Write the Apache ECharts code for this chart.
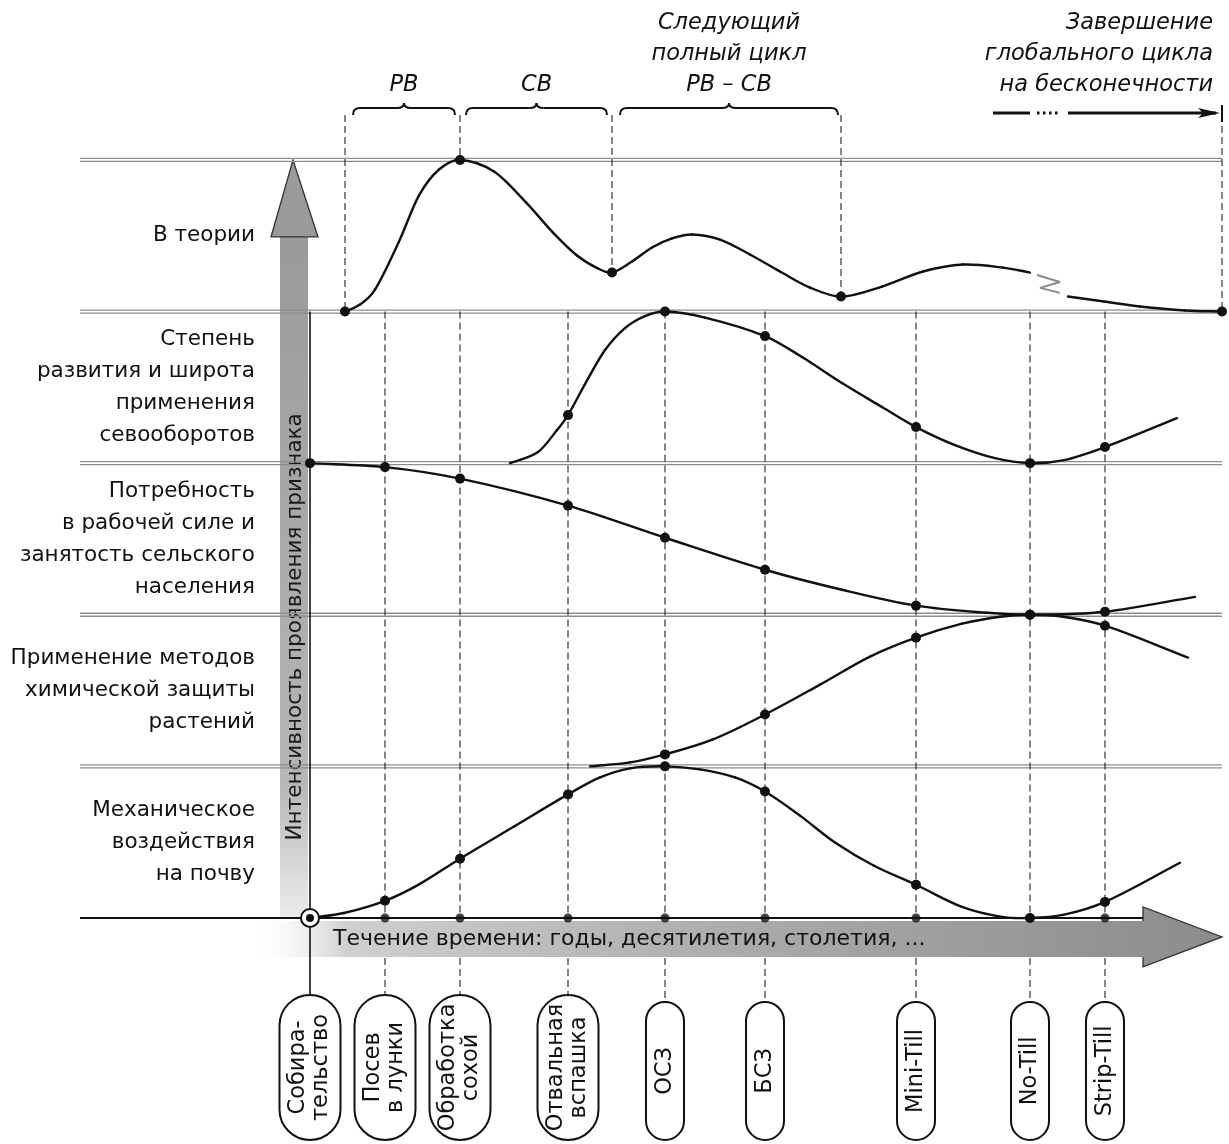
<!DOCTYPE html>
<html><head><meta charset="utf-8">
<script src="https://cdn.jsdelivr.net/npm/echarts@6/dist/echarts.min.js"></script>
<style>html,body{margin:0;padding:0;background:#fff}#c{width:1229px;height:1144px}</style>
</head><body><div id="c"></div><script>
// ================= DATA =================
// stages on the time axis (time units), labels of the stadium boxes
const stageLabels = ['Собира-\nтельство','Посев\nв лунки','Обработка\nсохой','Отвальная\nвспашка','ОСЗ','БСЗ','Mini-Till','No-Till','Strip-Till'];
const stageTimes  = [0, 7.5, 15, 25.8, 35.5, 45.5, 60.6, 72, 79.5];

// band titles (bottom band first) and band boundaries
const bandLabels = ['Механическое\nвоздействия\nна почву','Применение методов\nхимической защиты\nрастений','Потребность\nв рабочей силе и\nзанятость сельского\nнаселения','Степень\nразвития и широта\nприменения\nсевооборотов','В теории'];
const bandLevels = [0, 1, 2, 3, 4, 5];

// curves: [time, intensity 0..1 inside its band, 1 = marked point]
const theoryMain = [[3.5,0,1],[5,.046],[6.5,.145],[8.9,.462],[10.9,.766],[12.9,.937],[15,1,1],[18.4,.924],[21.6,.72],[24.3,.521],[26.7,.37],[28.8,.284],[30.2,.257,1],[32.2,.33],[34.2,.422],[36.2,.482],[38.2,.508],[41,.475],[44,.376],[47,.264],[50,.158],[53.1,.099,1],[57.2,.165],[61.3,.264],[65.3,.31],[69.3,.29],[72,.257]];
const theoryTail = [[75.8,.099],[79.4,.066],[83,.033],[87.5,.007],[91.2,0,1]];
const cropRotation = [[20,0],[22.8,.073],[24.7,.218],[25.8,.317,1],[27.5,.521],[29.5,.746],[31.5,.891],[33.5,.97],[35.5,1,1],[39.5,.96],[45.5,.838,1],[49.2,.70],[53.2,.528],[57.2,.37],[60.6,.238,1],[64.5,.119],[68.5,.033],[72,0,1],[75.4,.02],[79.5,.106,1],[86.7,.297]];
const labour = [[0,1,1],[7.5,.974,1],[15,.898,1],[25.8,.72,1],[35.5,.508,1],[45.5,.297,1],[53.2,.165],[60.6,.06,1],[67.7,.013],[72,0,1],[79.5,.02,1],[88.5,.118]];
const chemical = [[28,0],[32,.026],[35.5,.079,1],[40.3,.178],[45.5,.342,1],[51,.539],[56,.724],[60.6,.849,1],[65.2,.941],[69,.987],[72,1,1],[75.3,.987],[79.5,.928,1],[87.8,.717]];
const mechanical = [[0,0],[3.4,.033],[7.5,.113,1],[11,.225],[15,.391,1],[20.4,.603],[25.8,.815,1],[29,.927],[32,.987],[35.5,1,1],[39,.98],[42.5,.927],[45.5,.834,1],[49,.675],[52.5,.497],[56.4,.344],[60.6,.219,1],[65.2,.073],[69.2,.007],[72,0,1],[75.3,.02],[79.5,.106,1],[87,.364]];
const breakMark = [[72.7,4.241],[75,4.195],[73,4.156],[75,4.123]];

// cycle boundaries of the theory curve
const cycleTimes  = [3.5, 15, 30.2, 53.1, 91.2];
const cycleValues = [0, 1, 0.257, 0.099, 0];
const braceStarts = [4.3, 15.6, 31];
const braceEnds   = [14.5, 29.7, 52.8];
const braceLabels = ['РВ', 'СВ', 'Следующий\nполный цикл\nРВ – СВ'];
const endLabel = 'Завершение\nглобального цикла\nна бесконечности';
const endArrowSolid = [[68.3, 72], [75.8, 90.6]];
const endArrowDots = [72.7, 75.1];
const yAxisTitle = 'Интенсивность проявления признака';
const xAxisTitle = 'Течение времени: годы, десятилетия, столетия, ...';

// ================= LAYOUT / STYLE =================
const X_MIN = -31, X_MAX = 91.9, Y_MIN = -1.491, Y_MAX = 6.055;
const INK = '#111';
const FONT = '"DejaVu Sans", Verdana, sans-serif';
const F_LABEL = '21.5px ' + FONT;
const F_PILL = '22.5px ' + FONT;
const F_ITAL = 'italic 22.5px ' + FONT;
const LINE_START = -23, LINE_END = 91.2, ARROW_BASE = 83.3;
const BRACE_END_V = 5.297, BRACE_V = 5.343, BRACE_CUSP_V = 5.376;
const PILL_TOP2 = -0.508, PILL_TOP1 = -0.554, PILL_BOTTOM = -1.464, BELOW_ARROW = -0.264;

const chart = echarts.init(document.getElementById('c'));

function custom(name, data, renderItem, z) {
  return { type: 'custom', name, data, renderItem, z: z || 5, silent: true, clip: false };
}
function ln(a, b, style) { return { type: 'line', shape: { x1: a[0], y1: a[1], x2: b[0], y2: b[1] }, style }; }

// smooth curve through the read points (cubic Hermite in pixel space, drawn segment by segment)
function curve(name, pts, offset) {
  return custom(name, pts.map(p => [p[0], offset + p[1], p[2] ? 1 : 0]), (params, api) => {
    const n = pts.length, i = params.dataIndex;
    const P = k => api.coord([pts[k][0], offset + pts[k][1]]);
    const slope = k => {
      const a = P(Math.max(0, k - 1)), b = P(Math.min(n - 1, k + 1));
      return (b[1] - a[1]) / (b[0] - a[0]);
    };
    const kids = [];
    const p1 = P(i);
    if (i < n - 1) {
      const p2 = P(i + 1), dx = (p2[0] - p1[0]) / 3, m1 = slope(i), m2 = slope(i + 1);
      kids.push({ type: 'bezierCurve', shape: { x1: p1[0], y1: p1[1], cpx1: p1[0] + dx, cpy1: p1[1] + m1 * dx, cpx2: p2[0] - dx, cpy2: p2[1] - m2 * dx, x2: p2[0], y2: p2[1] },
        style: { stroke: INK, lineWidth: 2.4, fill: null, lineCap: 'round' } });
    }
    if (api.value(2)) kids.push({ type: 'circle', z2: 5, shape: { cx: p1[0], cy: p1[1], r: 5 }, style: { fill: INK } });
    return { type: 'group', children: kids };
  }, 10);
}

const dash = { stroke: '#222', lineWidth: 1.1, lineDash: [7, 4] };

const series = [
  // horizontal time arrow
  custom('timeArrow', [[0, 0]], (p, api) => {
    const c = (t, v) => api.coord([t, v]);
    const a = c(-6, -0.02), b = c(ARROW_BASE, -0.257), ht = c(ARROW_BASE, 0.073), hb = c(ARROW_BASE, -0.323), tip = c(91.2, -0.125);
    return { type: 'group', children: [
      { type: 'polygon', shape: { points: [a, [b[0], a[1]], ht, tip, hb, [b[0], b[1]], [a[0], b[1]]] },
        style: { fill: new echarts.graphic.LinearGradient(0, 0, 1, 0, [
          { offset: 0, color: 'rgba(255,255,255,0)' }, { offset: 0.1, color: '#cfcfcf' },
          { offset: 0.5, color: '#ababab' }, { offset: 1, color: '#8c8c8c' }]) } },
      { type: 'polyline', shape: { points: [[b[0], a[1]], ht, tip, hb, [b[0], b[1]]] }, style: { stroke: '#333', lineWidth: 1.3, fill: null } },
      { type: 'text', x: c(2.3, 0)[0], y: c(0, -0.14)[1], style: { text: xAxisTitle, font: '22px ' + FONT, fill: '#111', align: 'left', verticalAlign: 'middle' } }
    ] };
  }, 1),
  // vertical intensity arrow
  custom('yArrow', [[0, 0]], (p, api) => {
    const c = (t, v) => api.coord([t, v]);
    const s0 = c(-3.0, 0), s1 = c(-0.2, 4.492), hb1 = c(-3.9, 4.492), hb2 = c(0.8, 4.492), tip = c(-1.7, 5.0);
    const mid = c(-1.5, 1.92);
    return { type: 'group', children: [
      { type: 'rect', shape: { x: s0[0], y: s1[1], width: s1[0] - s0[0], height: s0[1] - s1[1] },
        style: { fill: new echarts.graphic.LinearGradient(0, 0, 0, 1, [
          { offset: 0, color: '#9a9a9a' }, { offset: 0.8, color: '#b6b6b6' }, { offset: 1, color: '#ececec' }]) } },
      { type: 'polygon', shape: { points: [[s0[0], hb1[1]], hb1, tip, hb2, [s1[0], hb2[1]]] }, style: { fill: '#9a9a9a', stroke: '#333', lineWidth: 1.3 } },
      { type: 'text', x: mid[0], y: mid[1], rotation: Math.PI / 2, style: { text: yAxisTitle, font: '21.5px ' + FONT, fill: '#1a1a1a', align: 'center', verticalAlign: 'middle' } }
    ] };
  }, 2),
  // band boundary lines
  custom('bands', bandLevels.map(l => [0, l]), (p, api) => {
    const lv = api.value(1);
    const a = api.coord([LINE_START, lv]);
    if (lv === 0) { const b = api.coord([ARROW_BASE, 0]); return ln(a, b, { stroke: INK, lineWidth: 2 }); }
    const b = api.coord([LINE_END, lv]);
    return { type: 'group', children: [
      ln([a[0], a[1] - 1.5], [b[0], b[1] - 1.5], { stroke: '#8d8d8d', lineWidth: 1.3 }),
      ln([a[0], a[1] + 1.5], [b[0], b[1] + 1.5], { stroke: '#8d8d8d', lineWidth: 1.3 })
    ] };
  }, 3),
  // stage guide lines
  custom('stageLines', stageTimes.map((t, i) => [t, i]), (p, api) => {
    const t = api.value(0), i = p.dataIndex;
    const top = stageLabels[i].indexOf('\n') >= 0 ? PILL_TOP2 : PILL_TOP1;
    if (i === 0) return ln(api.coord([0, 4]), api.coord([0, top]), { stroke: INK, lineWidth: 1.6 });
    return { type: 'group', children: [
      ln(api.coord([t, 4]), api.coord([t, 0]), dash),
      ln(api.coord([t, BELOW_ARROW]), api.coord([t, top]), dash)
    ] };
  }, 4),
  // cycle guide lines in the theory band
  custom('cycleLines', cycleTimes.map((t, i) => [t, 4 + cycleValues[i]]), (p, api) => {
    const t = api.value(0), v = api.value(1);
    return ln(api.coord([t, BRACE_END_V]), api.coord([t, v]), dash);
  }, 4),
  // braces and their captions
  custom('braces', braceStarts.map((t, i) => [t, braceEnds[i]]), (p, api) => {
    const a = api.coord([api.value(0), BRACE_V]), b = api.coord([api.value(1), BRACE_V]);
    const yE = api.coord([0, BRACE_END_V])[1], yL = a[1], yC = api.coord([0, BRACE_CUSP_V])[1];
    const xm = (a[0] + b[0]) / 2, r = 7, st = { stroke: INK, lineWidth: 2, fill: null };
    const txt = api.coord([0, 5.39])[1];
    return { type: 'group', children: [
      { type: 'bezierCurve', shape: { x1: a[0], y1: yE, cpx1: a[0], cpy1: yL, x2: a[0] + r, y2: yL }, style: st },
      ln([a[0] + r, yL], [xm - r, yL], st),
      { type: 'bezierCurve', shape: { x1: xm - r, y1: yL, cpx1: xm, cpy1: yL, x2: xm, y2: yC }, style: st },
      { type: 'bezierCurve', shape: { x1: xm, y1: yC, cpx1: xm, cpy1: yL, x2: xm + r, y2: yL }, style: st },
      ln([xm + r, yL], [b[0] - r, yL], st),
      { type: 'bezierCurve', shape: { x1: b[0] - r, y1: yL, cpx1: b[0], cpy1: yL, x2: b[0], y2: yE }, style: st },
      { type: 'text', x: xm, y: txt, style: { text: braceLabels[p.dataIndex], font: F_ITAL, fill: INK, align: 'center', verticalAlign: 'bottom', lineHeight: 31 } }
    ] };
  }, 5),
  // end of global cycle arrow + caption
  custom('endArrow', [[0, 0]], (p, api) => {
    const y = api.coord([0, 5.31])[1];
    const kids = endArrowSolid.map(s => ln([api.coord([s[0], 0])[0], y], [api.coord([s[1], 0])[0], y], { stroke: INK, lineWidth: 3 }));
    const d0 = api.coord([endArrowDots[0], 0])[0], d1 = api.coord([endArrowDots[1], 0])[0];
    kids.push(ln([d0, y], [d1, y], { stroke: INK, lineWidth: 3, lineDash: [2.5, 3.5] }));
    const tip = api.coord([91.0, 0])[0];
    kids.push({ type: 'polygon', shape: { points: [[tip - 22, y - 5], [tip, y], [tip - 22, y + 5], [tip - 17, y]] }, style: { fill: INK } });
    const tx = api.coord([91.2, 0])[0];
    kids.push(ln([tx, api.coord([0, 5.363])[1]], [tx, api.coord([0, 5.251])[1]], { stroke: INK, lineWidth: 2 }));
    kids.push({ type: 'text', x: api.coord([90.3, 0])[0], y: api.coord([0, 5.39])[1], style: { text: endLabel, font: F_ITAL, fill: INK, align: 'right', verticalAlign: 'bottom', lineHeight: 31 } });
    return { type: 'group', children: kids };
  }, 5),
  // band titles
  custom('bandTitles', bandLabels.map((s, i) => [-5.5, i + 0.5]), (p, api) => {
    const c = api.coord([api.value(0), api.value(1)]);
    return { type: 'text', x: c[0], y: c[1], style: { text: bandLabels[p.dataIndex], font: F_LABEL, fill: '#111', align: 'right', verticalAlign: 'middle', lineHeight: 32 } };
  }, 5),
  // stage boxes
  custom('stageBoxes', stageTimes.map((t, i) => [t, i]), (p, api) => {
    const s = stageLabels[p.dataIndex], two = s.indexOf('\n') >= 0;
    const cx = api.coord([api.value(0), 0])[0];
    const top = api.coord([0, two ? PILL_TOP2 : PILL_TOP1])[1], bot = api.coord([0, PILL_BOTTOM])[1];
    const w = two ? 61 : 38;
    return { type: 'group', children: [
      { type: 'rect', shape: { x: cx - w / 2, y: top, width: w, height: bot - top, r: w / 2 }, style: { fill: '#fff', stroke: INK, lineWidth: 2 } },
      { type: 'text', x: cx, y: (top + bot) / 2, rotation: Math.PI / 2, style: { text: s, font: F_PILL, fill: '#111', align: 'center', verticalAlign: 'middle', lineHeight: 23 } }
    ] };
  }, 6),
  curve('theory', theoryMain, 4),
  curve('theoryTail', theoryTail, 4),
  curve('crop', cropRotation, 3),
  curve('labour', labour, 2),
  curve('chemical', chemical, 1),
  curve('mechanical', mechanical, 0),
  { type: 'line', name: 'break', data: breakMark, clip: false, silent: true, symbol: 'none', z: 9, lineStyle: { color: '#8a8a8a', width: 2 } },
  { type: 'scatter', name: 'stageDots', data: stageTimes.slice(1).map(t => [t, 0]), symbolSize: 9, itemStyle: { color: INK }, z: 11, silent: true, clip: false },
  custom('origin', [[stageTimes[0], 0]], (p, api) => {
    const c = api.coord([api.value(0), api.value(1)]);
    return { type: 'group', children: [
      { type: 'circle', shape: { cx: c[0], cy: c[1], r: 9 }, style: { fill: '#fff', stroke: INK, lineWidth: 2 } },
      { type: 'circle', shape: { cx: c[0], cy: c[1], r: 4 }, style: { fill: INK } }
    ] };
  }, 12)
];

chart.setOption({
  animation: false,
  backgroundColor: '#fff',
  grid: { left: 0, right: 0, top: 0, bottom: 0 },
  xAxis: { type: 'value', min: X_MIN, max: X_MAX, show: false },
  yAxis: { type: 'value', min: Y_MIN, max: Y_MAX, show: false },
  series
});
</script></body></html>
